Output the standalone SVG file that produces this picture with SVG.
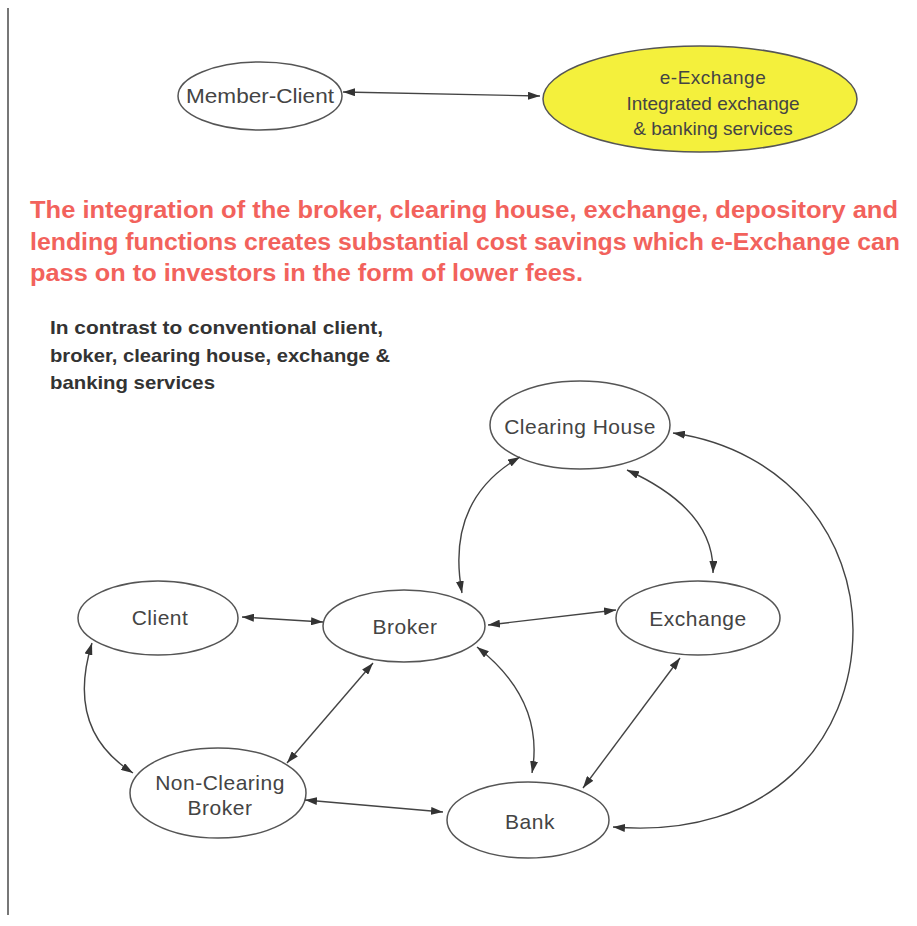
<svg xmlns="http://www.w3.org/2000/svg" width="917" height="926" viewBox="0 0 917 926">
<style>
.node ellipse{fill:#fff;stroke:#555;stroke-width:1.5}
.node text{font-family:"Liberation Sans",Arial,sans-serif;fill:#444;text-anchor:middle}
.g text{font-size:21px;letter-spacing:0.5px}
.conn path{fill:none;stroke:#444;stroke-width:1.4;marker-start:url(#ah);marker-end:url(#ah)}
.red{font-family:"Liberation Sans",Arial,sans-serif;font-weight:bold;fill:#f2625c;font-size:23px}
.blk{font-family:"Liberation Sans",Arial,sans-serif;font-weight:bold;fill:#333;font-size:19px}
</style>
<defs>
<marker id="ah" viewBox="0 0 12 8" refX="12" refY="4" markerWidth="12" markerHeight="8" markerUnits="userSpaceOnUse" orient="auto-start-reverse">
<path d="M0,0 L12,4 L0,8 z" fill="#333"/>
</marker>
</defs>
<rect width="917" height="926" fill="#fff"/>
<line x1="8" y1="8" x2="8" y2="915" stroke="#777" stroke-width="2"/>

<g id="member-client" class="node">
<ellipse cx="260" cy="96" rx="82" ry="34"/>
<text x="260" y="103" font-size="21" textLength="148" lengthAdjust="spacingAndGlyphs">Member-Client</text>
</g>
<g id="e-exchange" class="node">
<ellipse cx="700" cy="99" rx="157" ry="53" style="fill:#f4f03c"/>
<text x="713" y="84" font-size="19" letter-spacing="0.5">e-Exchange</text>
<text x="713" y="110" font-size="19">Integrated exchange</text>
<text x="713" y="135" font-size="19">&amp; banking services</text>
</g>

<g id="caption-red">
<text class="red" x="30" y="218" textLength="868" lengthAdjust="spacingAndGlyphs">The integration of the broker, clearing house, exchange, depository and</text>
<text class="red" x="30" y="250" textLength="870" lengthAdjust="spacingAndGlyphs">lending functions creates substantial cost savings which e-Exchange can</text>
<text class="red" x="30" y="281" textLength="553" lengthAdjust="spacingAndGlyphs">pass on to investors in the form of lower fees.</text>
</g>
<g id="caption-black">
<text class="blk" x="50" y="334" textLength="333" lengthAdjust="spacingAndGlyphs">In contrast to conventional client,</text>
<text class="blk" x="50" y="362" textLength="340" lengthAdjust="spacingAndGlyphs">broker, clearing house, exchange &amp;</text>
<text class="blk" x="50" y="389" textLength="165" lengthAdjust="spacingAndGlyphs">banking services</text>
</g>

<g id="clearing-house" class="node g">
<ellipse cx="580" cy="425" rx="90" ry="44"/>
<text x="580" y="434">Clearing House</text>
</g>
<g id="client" class="node g">
<ellipse cx="158" cy="618" rx="80" ry="37"/>
<text x="160" y="625">Client</text>
</g>
<g id="broker" class="node g">
<ellipse cx="404" cy="626" rx="81" ry="36"/>
<text x="405" y="634">Broker</text>
</g>
<g id="exchange" class="node g">
<ellipse cx="698" cy="618" rx="82" ry="37"/>
<text x="698" y="626">Exchange</text>
</g>
<g id="non-clearing-broker" class="node g">
<ellipse cx="218" cy="793" rx="88" ry="45"/>
<text x="220" y="790">Non-Clearing</text>
<text x="220" y="815">Broker</text>
</g>
<g id="bank" class="node g">
<ellipse cx="528" cy="820" rx="81" ry="38"/>
<text x="530" y="829">Bank</text>
</g>

<g id="connectors" class="conn">
<path d="M343,92 L540,96"/>
<path d="M242,617 L323,622"/>
<path d="M488,625 L616,610"/>
<path d="M520,457 Q445,500 462,593"/>
<path d="M627,470 Q715,510 713,573"/>
<path d="M673,433 C790,450 853,540 853,630 C853,740 770,840 613,827"/>
<path d="M680,658 L583,788"/>
<path d="M477,647 Q545,700 532,773"/>
<path d="M373,663 L287,763"/>
<path d="M92,643 Q65,730 133,773"/>
<path d="M305,800 L443,812"/>
</g>
</svg>
